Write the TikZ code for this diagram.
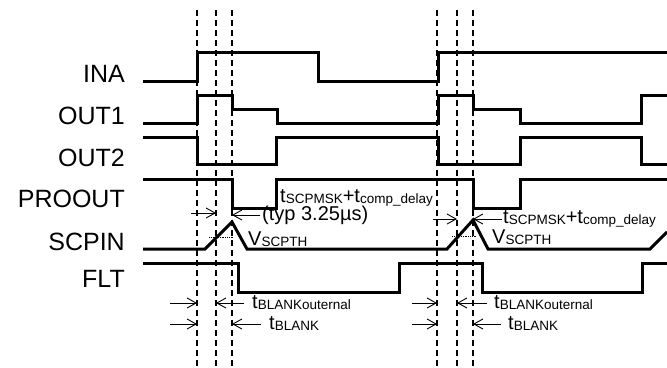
\documentclass[tikz,border=0pt]{standalone}
\usepackage{fontspec}
\setmainfont{Liberation Sans}
\usetikzlibrary{arrows.meta}
\newcommand{\lsub}[1]{\raisebox{-1pt}{\fontsize{13.5}{14}\selectfont #1}}

\begin{document}
\begin{tikzpicture}[x=1pt, y=-1pt,
    sig/.style={line width=3pt},
    guide/.style={line width=1.4pt, dash pattern=on 6pt off 4pt},
    dimarr/.style={-{Straight Barb[length=9pt,width=10pt]}, line width=0.9pt},
    siglab/.style={anchor=base east, inner sep=0pt, font=\fontsize{25}{25}\selectfont},
    txt/.style={inner sep=0pt, font=\fontsize{20}{20}\selectfont}]
      \useasboundingbox (0,0) rectangle (667,367);
      % guide lines at the two events
      \foreach \n/\x in {a1/197,a2/216,a3/232,b1/437,b2/457,b3/473} {
        \coordinate (\n) at (\x,0);
        \draw[guide] (\n |- 0,10) -- (\n |- 0,367);
      }
      % signal names
      \node[siglab] (ina) at (125,82) {INA};
      \node[siglab] (out1) at (125,124) {OUT1};
      \node[siglab] (out2) at (125,166) {OUT2};
      \node[siglab] (proout) at (125,207) {PROOUT};
      \node[siglab] (scpin) at (125,250) {SCPIN};
      \node[siglab] (flt) at (125,287) {FLT};
      % INA
      \draw[sig] (143,81) -- (197,81) -- (197,52) -- (318,52) -- (318,81)
        -- (438,81) -- (438,52) -- (667,52);
      % OUT1
      \draw[sig] (143,123) -- (197,123) -- (197,95) -- (232,95) -- (232,109)
        -- (277,109) -- (277,123) -- (438,123) -- (438,95) -- (473,95)
        -- (473,109) -- (520,109) -- (520,123) -- (641,123) -- (641,95) -- (667,95);
      % OUT2
      \draw[sig] (143,137) -- (197,137) -- (197,164) -- (276,164) -- (276,137)
        -- (438,137) -- (438,164) -- (520,164) -- (520,137) -- (641,137)
        -- (641,164) -- (667,164);
      % PROOUT
      \draw[sig] (143,179) -- (232,179) -- (232,208) -- (276,208) -- (276,179)
        -- (473,179) -- (473,208) -- (520,208) -- (520,179) -- (667,179);
      % SCPIN
      \draw[sig] (143,249) -- (205,249) -- (232,222) -- (247,249) -- (447,249)
        -- (473,220) -- (488,249) -- (650,249) -- (667,232);
      \draw[densely dotted, line width=0.8pt] (209,237) -- (233,237);
      \draw[densely dotted, line width=0.8pt] (452,236) -- (477,236);
      \node[txt, anchor=base west] (vth1) at (248,245) {V\lsub{SCPTH}};
      \node[txt, anchor=base west] (vth2) at (492,243) {V\lsub{SCPTH}};
      % FLT
      \draw[sig] (143,263) -- (238,263) -- (238,292) -- (399,292) -- (399,263)
        -- (482,263) -- (482,292) -- (642,292) -- (642,263) -- (667,263);
      % mask time, first event
      \node[txt, anchor=base west] (msk1) at (280,202) {t\lsub{SCPMSK}+t\lsub{comp\_delay}};
      \node[txt, anchor=west, inner xsep=2pt] (typ) at (260,215) {(typ 3.25µs)};
      \draw[dimarr] (191,213) -- (a2 |- 0,213);
      \draw[dimarr] (typ.west) -- (typ.west -| a3);
      % mask time, second event
      \node[txt, anchor=west, inner xsep=1pt] (msk2) at (502,219) {t\lsub{SCPMSK}+t\lsub{comp\_delay}};
      \draw[dimarr] (433,219) -- (b2 |- 0,219);
      \draw[dimarr] (msk2.west) -- (msk2.west -| b3);
      % blanking times, first event
      \node[txt, anchor=west, inner xsep=8pt] (bo1) at (244,303) {t\lsub{BLANKouternal}};
      \node[txt, anchor=west, inner xsep=8pt] (bl1) at (261,324) {t\lsub{BLANK}};
      \draw[dimarr] (170,303) -- (a1 |- 0,303);
      \draw[dimarr] (170,324) -- (a1 |- 0,324);
      \draw[dimarr] (bo1.west) -- (bo1.west -| a2);
      \draw[dimarr] (bl1.west) -- (bl1.west -| a3);
      % blanking times, second event
      \node[txt, anchor=west, inner xsep=7pt] (bo2) at (487,303) {t\lsub{BLANKouternal}};
      \node[txt, anchor=west, inner xsep=7pt] (bl2) at (501,324) {t\lsub{BLANK}};
      \draw[dimarr] (412,303) -- (b1 |- 0,303);
      \draw[dimarr] (412,324) -- (b1 |- 0,324);
      \draw[dimarr] (bo2.west) -- (bo2.west -| b2);
      \draw[dimarr] (bl2.west) -- (bl2.west -| b3);
    \end{tikzpicture}
\end{document}
